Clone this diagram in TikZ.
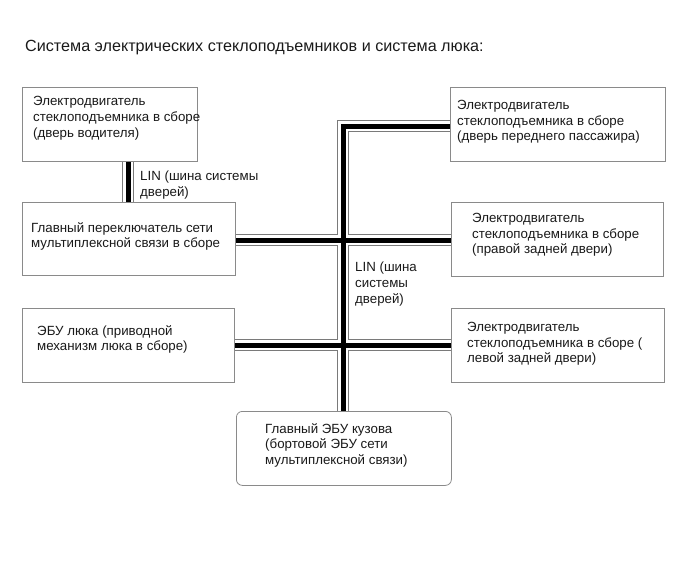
\documentclass[tikz,border=0pt]{standalone}
\usepackage{fontspec}
\setmainfont{Liberation Sans}
\definecolor{boxgray}{HTML}{8A8A8A}
\definecolor{busgray}{HTML}{7A7A7A}
\definecolor{ink}{HTML}{1A1A1A}
\pgfdeclarelayer{background}
\pgfsetlayers{background,main}
\begin{document}
\begin{tikzpicture}[x=1pt,y=-1pt,
  box/.style={draw=boxgray, line width=0.8pt, fill=white, inner sep=0pt, anchor=north west},
  txt/.style={anchor=north west, inner sep=0pt, align=left, text=ink,
              font=\fontsize{13.3}{15.7}\selectfont},
  titletxt/.style={anchor=west, inner sep=0pt, text=ink, font=\fontsize{16.15}{19}\selectfont},
  busouter/.style={line width=11.5pt, draw=busgray, line join=miter},
  buswhite/.style={line width=9.5pt, draw=white, line join=miter},
  buscore/.style={line width=5pt, draw=black, line join=miter}]
\useasboundingbox (0,0) rectangle (691,562);

\node[titletxt] (title) at (25,48) {Система электрических стеклоподъемников и система люка:};

% boxes
\node[box, minimum width=175pt, minimum height=74pt] (A) at (22,87) {};
\node[box, minimum width=213pt, minimum height=73pt] (B) at (22,202) {};
\node[box, minimum width=215pt, minimum height=74pt] (C) at (450,87) {};
\node[box, minimum width=212pt, minimum height=74pt] (D) at (451,202) {};
\node[box, minimum width=212pt, minimum height=74pt] (E) at (22,308) {};
\node[box, minimum width=213pt, minimum height=74pt] (F) at (451,308) {};
\node[box, minimum width=215pt, minimum height=74pt, rounded corners=6pt] (G) at (236,411) {};

% box texts
\node[txt] (tA) at (33,96.5) {Электродвигатель\\стеклоподъемника в сборе\\(дверь водителя)};
\node[txt] (tB) at (31,222) {Главный переключатель сети\\мультиплексной связи в сборе};
\node[txt] (tC) at (457,100) {Электродвигатель\\стеклоподъемника в сборе\\(дверь переднего пассажира)};
\node[txt] (tD) at (472,213) {Электродвигатель\\стеклоподъемника в сборе\\(правой задней двери)};
\node[txt] (tE) at (37,325) {ЭБУ люка (приводной\\механизм люка в сборе)};
\node[txt] (tF) at (467,322) {Электродвигатель\\стеклоподъемника в сборе (\\левой задней двери)};
\node[txt] (tG) at (265,423) {Главный ЭБУ кузова\\(бортовой ЭБУ сети\\мультиплексной связи)};

% bus labels
\node[txt] (l1) at (140,170.5) {LIN (шина системы\\дверей)};
\node[txt] (l2) at (355,262) {LIN (шина\\системы\\дверей)};

% bus junctions
\coordinate (j1) at (343,126);
\coordinate (j2) at (343,240);
\coordinate (j3) at (343,345);
\coordinate (lx) at (128,0);

\begin{pgfonlayer}{background}
\foreach \s in {busouter,buswhite,buscore}{
  \draw[\s] (j1 -| C.west) -- (j1) -- (j1 |- G.north);
  \draw[\s] (B.east |- j2) -- (j2 -| D.west);
  \draw[\s] (E.east |- j3) -- (j3 -| F.west);
  \draw[\s] (A.south -| lx) -- (B.north -| lx);
}
\end{pgfonlayer}
\end{tikzpicture}
\end{document}
